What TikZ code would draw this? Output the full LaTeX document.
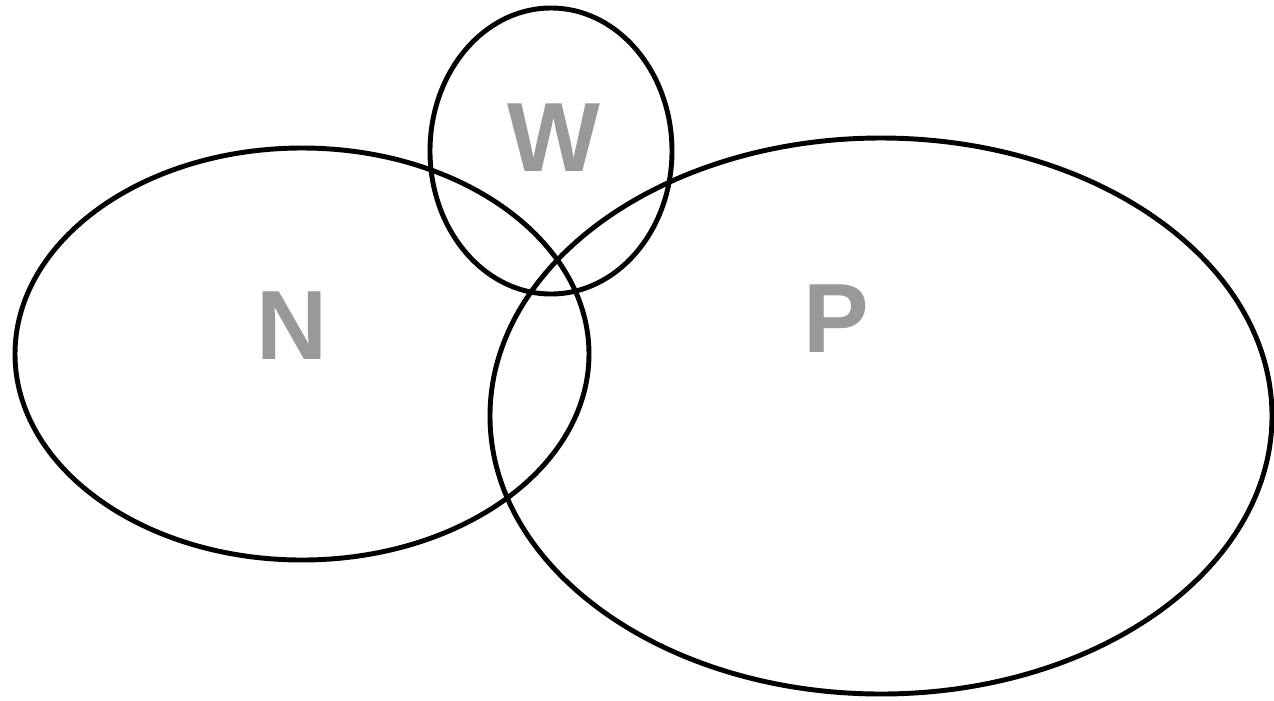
\documentclass[tikz,border=0pt]{standalone}
\usepackage{fontspec}
\setmainfont{Liberation Sans}
\usepackage{xcolor}
\usetikzlibrary{positioning}
\definecolor{setgray}{rgb}{0.60,0.60,0.60}

\tikzset{
  setline/.style={line width=1.4pt, black},
  setlabel/.style={text=setgray, font=\fontsize{28}{34}\selectfont\bfseries, inner sep=0pt}
}

\begin{document}
\begin{tikzpicture}[x=0.1mm, y=-0.1mm]
    \useasboundingbox (0,0) rectangle (1274,700);
    % set N
    \draw[setline] (302,354) ellipse [x radius=287, y radius=206];
    \node[setlabel] (labN) at (292,326) {N};
    % set W
    \draw[setline] (551,151) ellipse [x radius=121, y radius=143];
    \node[setlabel] (labW) at (554,138) {W};
    % set P
    \draw[setline] (881,416) ellipse [x radius=391, y radius=278];
    \node[setlabel] (labP) at (836,319) {P};
\end{tikzpicture}
\end{document}
